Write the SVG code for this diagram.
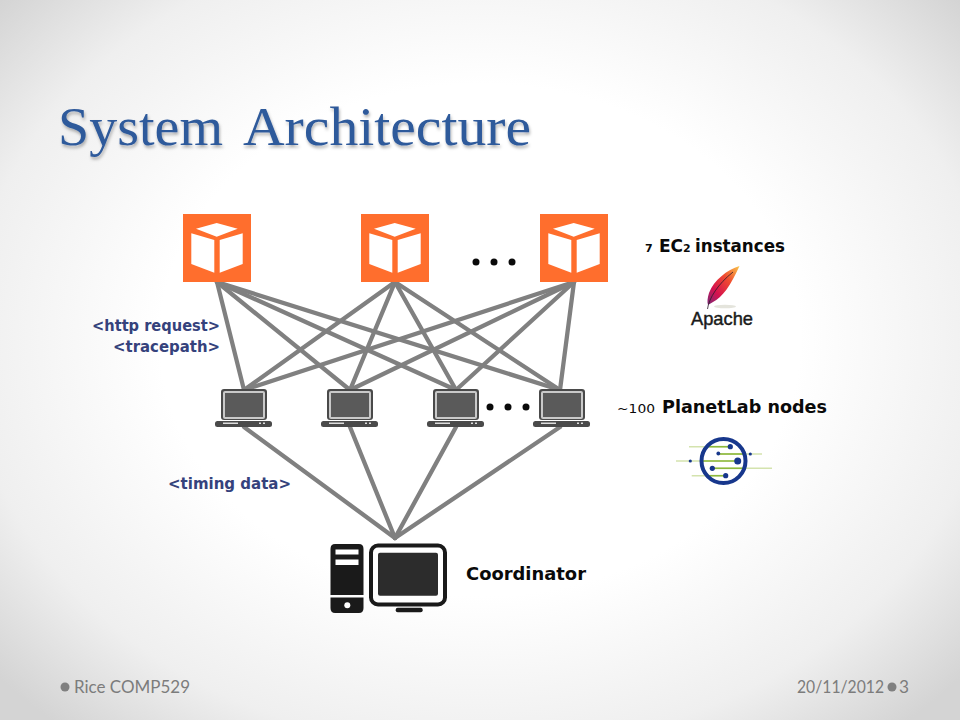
<svg xmlns="http://www.w3.org/2000/svg" width="960" height="720" viewBox="0 0 960 720">
<style>
.t{font-family:"DejaVu Sans",sans-serif;font-weight:700;fill:#0a0a0a}
.b{font-family:"DejaVu Sans",sans-serif;font-weight:700;fill:#35427c;font-size:15.500px}
.f{font-family:"Lato","Open Sans",sans-serif;font-weight:400;fill:#7c7c7c;font-size:17px}
.c line{stroke:#808080;stroke-width:4.300;stroke-linecap:round}
.d{fill:#0a0a0a}
.g{stroke:#8cb83c;stroke-width:1.600}
.l{stroke:#d4e3ae;stroke-width:1.600}
.n{fill:#17378c}
</style>
<defs>
<radialGradient id="bg" gradientUnits="userSpaceOnUse" cx="480" cy="340" r="640" gradientTransform="translate(0 68) scale(1 .8)">
<stop offset="0" stop-color="#fff"/><stop offset=".5" stop-color="#fff"/><stop offset=".8" stop-color="#efefef"/><stop offset="1" stop-color="#d4d4d4"/>
</radialGradient>
<linearGradient id="fe" x1="0" y1="1" x2="1" y2="0">
<stop offset="0" stop-color="#7b2a78"/><stop offset=".3" stop-color="#d5124f"/><stop offset=".65" stop-color="#f04c30"/><stop offset="1" stop-color="#f9c84a"/>
</linearGradient>
<filter id="s" x="-5%" y="-20%" width="110%" height="140%"><feDropShadow dx="1" dy="2.500" stdDeviation="1.600" flood-color="#000" flood-opacity=".3"/></filter>
<g id="ec2"><rect width="68" height="68" fill="#ff6e2d"/><path fill="#fff" d="M13 14.700 33.700 9 54.700 14.700 33.700 22.700ZM8.300 19.300 31.300 26V58.700L8.300 50ZM36.700 26 59.700 19.300V50L36.700 58.700Z"/></g>
<g id="lap"><rect x="6" y="0" width="46" height="31" rx="3" fill="#4a4a4a"/><rect x="8" y="2" width="42" height="28" rx="2" fill="#fff" fill-opacity=".7"/><rect x="10" y="4" width="38" height="24" fill="#5a5a5a"/><rect x="0" y="32" width="57" height="6" rx="2.500" fill="#4a4a4a"/><rect x="8" y="33.500" width="15" height="1.500" fill="#ddd"/><rect x="44" y="33.500" width="2" height="1.500" fill="#ddd"/><rect x="48" y="33.500" width="2" height="1.500" fill="#ddd"/></g>
</defs>
<rect width="960" height="720" fill="url(#bg)"/>
<text y="145" font-family="'Liberation Serif',serif" font-size="54" fill="#2f5a9b" filter="url(#s)"><tspan x="58" textLength="165" lengthAdjust="spacingAndGlyphs">System</tspan> <tspan x="243" textLength="288" lengthAdjust="spacingAndGlyphs">Architecture</tspan></text>

<g id="connectors" class="c">
<line x1="217" y1="282" x2="244" y2="390"/><line x1="217" y1="282" x2="350" y2="390"/><line x1="217" y1="282" x2="456" y2="390"/><line x1="217" y1="282" x2="560" y2="390"/>
<line x1="395" y1="282" x2="244" y2="390"/><line x1="395" y1="282" x2="350" y2="390"/><line x1="395" y1="282" x2="456" y2="390"/><line x1="395" y1="282" x2="560" y2="390"/>
<line x1="574" y1="282" x2="244" y2="390"/><line x1="574" y1="282" x2="350" y2="390"/><line x1="574" y1="282" x2="456" y2="390"/><line x1="574" y1="282" x2="560" y2="390"/>
<line x1="244" y1="427" x2="395" y2="538"/><line x1="350" y1="427" x2="395" y2="538"/><line x1="456" y1="427" x2="395" y2="538"/><line x1="560" y1="427" x2="395" y2="538"/>
</g>

<g id="ec2-1"><use href="#ec2" x="183" y="214"/></g>
<g id="ec2-2"><use href="#ec2" x="361" y="214"/></g>
<g id="ec2-3"><use href="#ec2" x="540" y="214"/></g>
<g id="dots-top" class="d"><circle cx="476" cy="262" r="3.500"/><circle cx="494" cy="262" r="3.500"/><circle cx="512" cy="262" r="3.500"/></g>

<g id="ec2-label"><text class="t" y="252" font-size="17"><tspan x="645" font-size="11">7</tspan> <tspan x="659">EC</tspan><tspan font-size="11">2</tspan> <tspan x="695" textLength="90" lengthAdjust="spacingAndGlyphs">instances</tspan></text></g>
<g id="apache">
<path fill="url(#fe)" d="M739.500 266C727 270 714 280 709 293C707.500 298 707 302 708 305L713 302C722 298 731 285 739.500 266Z"/>
<path d="M707.500 309C709 298 718 284 733 272" fill="none" stroke="#2a1a2a" stroke-width=".8"/>
<ellipse cx="725" cy="306.500" rx="11" ry="1.800" fill="#e4e4dc"/>
<text x="691" y="324.500" font-family="'Liberation Sans',sans-serif" font-size="19" fill="#1a1a1a" stroke="#1a1a1a" stroke-width=".45" textLength="62" lengthAdjust="spacingAndGlyphs">Apache</text>
</g>

<g id="http-label"><text class="b" x="92" y="331" textLength="128" lengthAdjust="spacingAndGlyphs">&lt;http request&gt;</text><text class="b" x="113" y="352" textLength="107" lengthAdjust="spacingAndGlyphs">&lt;tracepath&gt;</text></g>

<g id="laptop-1"><use href="#lap" x="215" y="389"/></g>
<g id="laptop-2"><use href="#lap" x="321" y="389"/></g>
<g id="laptop-3"><use href="#lap" x="427" y="389"/></g>
<g id="laptop-4"><use href="#lap" x="533" y="389"/></g>
<g id="dots-mid" class="d"><circle cx="490" cy="407" r="3.500"/><circle cx="508" cy="407" r="3.500"/><circle cx="526" cy="407" r="3.500"/></g>

<g id="planetlab-label"><text class="t" y="413" font-size="17"><tspan x="617" font-size="12" font-weight="400" textLength="38" lengthAdjust="spacingAndGlyphs">~100</tspan> <tspan x="662" textLength="165" lengthAdjust="spacingAndGlyphs">PlanetLab nodes</tspan></text></g>
<g id="planetlab">
<line class="l" x1="689" y1="446.700" x2="730" y2="446.700"/><line class="l" x1="718" y1="454" x2="762" y2="454"/><line class="l" x1="676" y1="461" x2="737" y2="461"/><line class="l" x1="712" y1="468.300" x2="772" y2="468.300"/><line class="l" x1="691.700" y1="475.700" x2="725.700" y2="475.700"/>
<line class="g" x1="709" y1="446.700" x2="730" y2="446.700"/><line class="g" x1="718" y1="454" x2="744" y2="454"/><line class="g" x1="703" y1="461" x2="737" y2="461"/><line class="g" x1="712" y1="468.300" x2="744" y2="468.300"/><line class="g" x1="707" y1="475.700" x2="725.700" y2="475.700"/>
<circle cx="723.500" cy="461" r="22" fill="none" stroke="#17378c" stroke-width="4"/>
<circle class="n" cx="730.300" cy="446.700" r="2.600"/><circle class="n" cx="718.300" cy="453.500" r="1.900"/><circle class="n" cx="750.300" cy="454" r="1.600"/><circle class="n" cx="737.700" cy="461" r="3.500"/><circle class="n" cx="690.300" cy="461" r="1.600"/><circle class="n" cx="712.300" cy="468.300" r="2.600"/><circle class="n" cx="725.700" cy="475.700" r="2.600"/>
</g>

<g id="timing-label"><text class="b" x="168" y="489" textLength="123" lengthAdjust="spacingAndGlyphs">&lt;timing data&gt;</text></g>

<g id="coordinator">
<path fill="#1a1a1a" d="M335 544H359Q363.500 544 363.500 549V595H330.500V549Q330.500 544 335 544Z"/>
<path fill="#1a1a1a" d="M330.500 597.500H363.500V608Q363.500 613 359 613H335Q330.500 613 330.500 608Z"/>
<rect x="335.500" y="549.500" width="23" height="5" fill="#fff"/><rect x="335.500" y="559.500" width="23" height="5.500" fill="#fff"/>
<circle cx="347.300" cy="605.300" r="3" fill="#fff"/>
<rect x="371" y="545.500" width="74" height="59" rx="7" fill="#fff" stroke="#1a1a1a" stroke-width="4"/>
<rect x="378" y="552.700" width="60" height="43" rx="2" fill="#2c2c2c"/>
<rect x="395.700" y="607.700" width="27" height="4.600" rx="2" fill="#1a1a1a"/>
</g>
<g id="coordinator-label"><text class="t" x="466" y="580" font-size="17" textLength="120" lengthAdjust="spacingAndGlyphs">Coordinator</text></g>

<g id="footer">
<circle cx="65" cy="687" r="4.500" fill="#808080"/>
<text class="f" x="74" y="693" textLength="116" lengthAdjust="spacingAndGlyphs">Rice COMP529</text>
<text class="f" x="797" y="693" textLength="87" lengthAdjust="spacingAndGlyphs">20/11/2012</text>
<circle cx="892" cy="687" r="4.500" fill="#808080"/>
<text class="f" x="899" y="693" textLength="10" lengthAdjust="spacingAndGlyphs">3</text>
</g>
</svg>
